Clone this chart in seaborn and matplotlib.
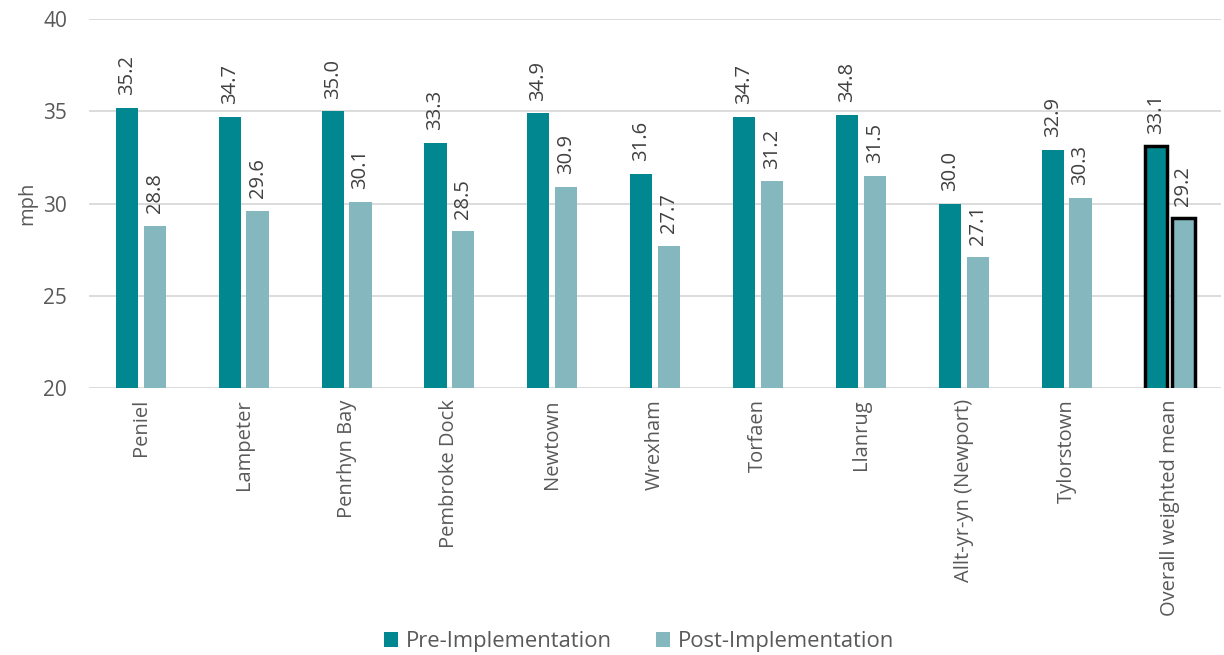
import matplotlib
matplotlib.use("Agg")
import matplotlib.pyplot as plt
from matplotlib.patches import Patch
import seaborn as sns
import pandas as pd

sites = ["Peniel", "Lampeter", "Penrhyn Bay", "Pembroke Dock", "Newtown", "Wrexham",
         "Torfaen", "Llanrug", "Allt-yr-yn (Newport)", "Tylorstown", "Overall weighted mean"]
pre_speed = [35.2, 34.7, 35.0, 33.3, 34.9, 31.6, 34.7, 34.8, 30.0, 32.9, 33.1]
post_speed = [28.8, 29.6, 30.1, 28.5, 30.9, 27.7, 31.2, 31.5, 27.1, 30.3, 29.2]
periods = ["Pre-Implementation", "Post-Implementation"]
colors = ["#00878F", "#84B8BE"]

df = pd.DataFrame({
    "site": sites * 2,
    "speed": pre_speed + post_speed,
    "period": [periods[0]] * len(sites) + [periods[1]] * len(sites),
})

sns.set_style("white")
plt.rcParams["font.family"] = ["Open Sans", "DejaVu Sans"]

fig = plt.figure(figsize=(12.24, 6.55), dpi=100)
ax = fig.add_axes([0.073, 0.4076, 0.9245, 0.5634])

sns.barplot(data=df, x="site", y="speed", hue="period", palette=colors,
            width=0.54, gap=0.2, ax=ax, legend=False, errorbar=None,
            linewidth=0, saturation=1, zorder=3)

ax.set_ylim(20, 40)
ax.set_yticks([20, 25, 30, 35, 40])
ax.set_xlim(-0.5, len(sites) - 0.5)
ax.yaxis.grid(True, color="#D9D9D9", linewidth=1.3, zorder=0)
ax.set_axisbelow(True)
for s in ax.spines.values():
    s.set_visible(False)

ax.tick_params(axis="y", labelsize=15, colors="#595959", length=0, pad=16)
ax.tick_params(axis="x", labelsize=14.5, colors="#595959", length=0, pad=8)
plt.setp(ax.get_xticklabels(), rotation=90)
ax.set_xlabel("")
ax.set_ylabel("mph", fontsize=14.5, color="#595959", labelpad=4)

for cont in ax.containers:
    ax.bar_label(cont, fmt="%.1f", rotation=90, padding=9, fontsize=14.5,
                 color="#404040")
    # outline the overall mean bars
    last = cont.patches[-1]
    last.set_edgecolor("black")
    last.set_linewidth(2.5)

handles = [Patch(facecolor=c, edgecolor="none") for c in colors]
fig.legend(handles, periods, loc="center", bbox_to_anchor=(0.522, 0.02), ncol=2,
           frameon=False, fontsize=15.8, handlelength=0.65, handleheight=0.65,
           handletextpad=0.35, columnspacing=2.0, labelcolor="#595959")

fig.savefig("out.png", dpi=100)
